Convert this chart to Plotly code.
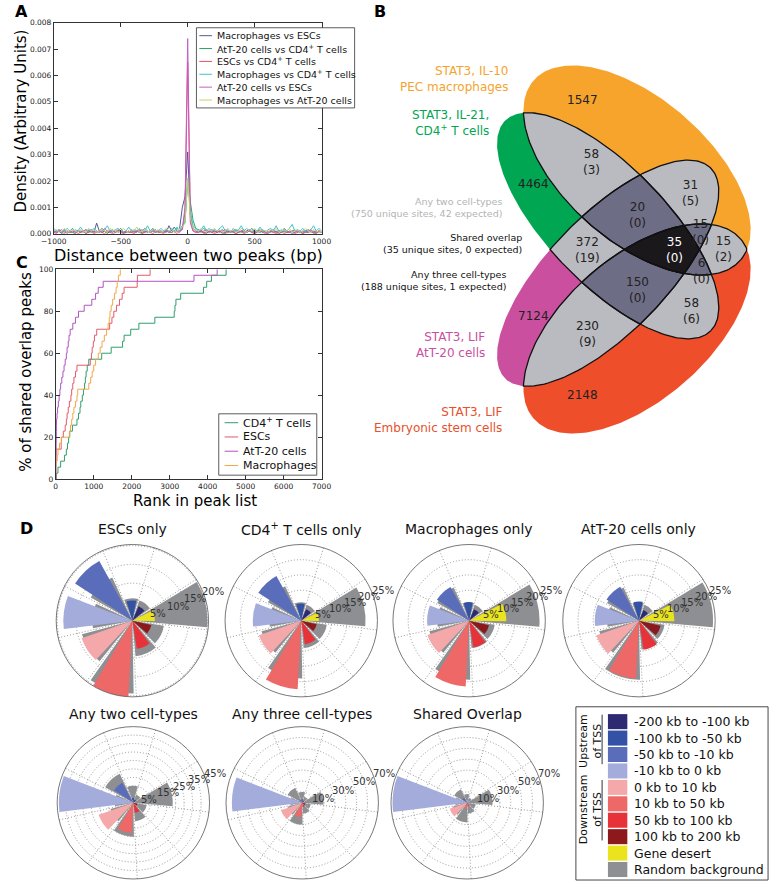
import numpy as np
import plotly.graph_objects as go

W, H = 780, 887
FONT = "DejaVu Sans"


def px(x):
    return x / W


def py(y):
    return 1 - y / H


# ---------------- panel A: distance between paired peaks ----------------
dist_bins = list(range(-1000, 1001, 20))  # bp, bin centres
# densities in units of 1e-4
mac_vs_esc = [1, 0.5, 1, 0, 1.5, 0.5, 1, 0.5, 0, 1,
              0.5, 1, 0, 1, 1.5, 0.5, 4, 1, 0.5, 1,
              0, 1, 0.5, 1.5, 0.5, 1, 0, 0.5, 1, 0.5,
              1, 0.5, 1.5, 0, 1, 0.5, 1, 2, 0.5, 1,
              0.5, 1, 0.5, 3, 1, 2.5, 1, 2, 10, 14,
              31,
              7, 2, 1, 0.5, 1, 0.5, 0, 1, 0.5, 1,
              0.5, 1, 0, 0.5, 1, 0.5, 1, 0, 0.5, 1,
              0.5, 1, 1.5, 0.5, 0, 1, 0.5, 1, 0.5, 0,
              1, 0.5, 1, 0, 0.5, 1, 0.5, 1, 0, 0.5,
              1, 0.5, 0, 1, 0.5, 1, 0.5, 0, 1, 0.5]
att_vs_cd4 = [0.5, 1, 1.5, 0.5, 1, 0, 1, 2, 0.5, 1,
              1, 0.5, 1.5, 1, 0.5, 1, 0.5, 1, 2, 1,
              0.5, 1, 1.5, 0.5, 1, 2, 0.5, 1, 0.5, 1.5,
              0.5, 1, 0.5, 1, 2, 1, 0.5, 1, 1.5, 0.5,
              1, 0.5, 1.5, 1, 0.5, 1, 2, 1, 3, 4,
              21,
              12, 5, 2, 1.5, 1, 2, 1, 0.5, 1.5, 1,
              0.5, 1, 1.5, 0.5, 1, 0.5, 1, 1.5, 1, 0.5,
              1, 0.5, 1, 2, 0.5, 1, 1.5, 0.5, 1, 0.5,
              1, 1.5, 0.5, 1, 0.5, 2, 1, 0.5, 1, 1.5,
              0.5, 1, 0.5, 1, 1.5, 0.5, 1, 0.5, 1, 0.5]
esc_vs_cd4 = [0.5, 0, 1, 0.5, 0, 1, 0.5, 0.5, 1, 0,
              0.5, 1, 0, 0.5, 1, 0, 0.5, 1, 0.5, 0,
              1, 0.5, 0, 0.5, 1, 0.5, 0, 1, 0.5, 0.5,
              0, 1, 0.5, 0, 0.5, 1, 0.5, 0, 1, 0.5,
              0.5, 0, 1, 0.5, 0.5, 1, 0, 1, 1.5, 8,
              65,
              5, 1, 0.5, 0.5, 1, 0, 0.5, 1, 0.5, 0,
              0.5, 1, 0.5, 0, 0.5, 1, 0.5, 0, 0.5, 1,
              0, 0.5, 1, 0.5, 0, 0.5, 1, 0.5, 0, 0.5,
              1, 0.5, 0, 0.5, 1, 0, 0.5, 0.5, 1, 0,
              0.5, 1, 0, 0.5, 0.5, 1, 0, 0.5, 1, 0.5]
mac_vs_cd4 = [2, 1, 1.5, 0.5, 1, 2, 1, 0.5, 1.5, 1,
              2.5, 1, 0.5, 1.5, 1, 2, 1, 0.5, 1, 1.5,
              3, 1, 0.5, 1.5, 2, 1, 0.5, 1, 2.5, 1,
              1.5, 1, 2, 0.5, 1, 3, 1, 1.5, 0.5, 1,
              2, 1, 1.5, 0.5, 2, 1, 2.5, 1, 3, 5,
              20,
              9, 3, 2, 1, 1.5, 3, 1, 2, 1, 1.5,
              1, 2, 3, 1, 1.5, 0.5, 2, 1, 1.5, 3,
              1, 2, 1, 0.5, 1.5, 1, 2.5, 1, 0.5, 1.5,
              2, 1, 3, 1, 1.5, 0.5, 1, 2, 3.5, 1,
              1.5, 1, 2, 0.5, 1, 1.5, 3, 1, 2, 1]
att_vs_esc = [1, 0.5, 1, 1.5, 0.5, 1, 0.5, 1, 0.5, 1,
              0.5, 1, 1.5, 0.5, 1, 0.5, 1, 0.5, 1, 2,
              1, 0.5, 1, 0.5, 1.5, 1, 0.5, 1, 0.5, 1,
              0.5, 1, 1, 1.5, 0.5, 1, 0.5, 1, 0.5, 1,
              1, 0.5, 1, 0.5, 1.5, 0.5, 1, 0.5, 2, 10,
              74,
              4, 1, 0.5, 1, 0.5, 1, 1.5, 0.5, 1, 0.5,
              1, 0.5, 1, 1.5, 0.5, 1, 0.5, 1, 0.5, 1,
              1.5, 0.5, 1, 0.5, 1, 0.5, 1, 1.5, 0.5, 1,
              0.5, 1, 0.5, 1, 0.5, 1.5, 1, 0.5, 1, 0.5,
              1, 0.5, 1, 0.5, 1, 1.5, 0.5, 1, 0.5, 1]
mac_vs_att = [1, 1.5, 0.5, 1, 2, 0.5, 1, 1.5, 1, 0.5,
              1.5, 1, 0.5, 2, 1, 1.5, 0.5, 1, 1.5, 1,
              0.5, 2, 1, 1.5, 0.5, 1, 2, 1, 0.5, 1.5,
              1, 2.5, 0.5, 1, 1.5, 1, 0.5, 2, 1, 1.5,
              0.5, 1, 2, 1, 1.5, 0.5, 1, 2, 2.5, 4,
              21,
              6, 2, 1.5, 1, 2, 1, 0.5, 1.5, 1, 2,
              1, 1.5, 0.5, 1, 2, 1, 1.5, 0.5, 1, 2,
              1, 0.5, 1.5, 1, 2, 0.5, 1, 1.5, 1, 0.5,
              1.5, 1, 2, 0.5, 1, 1.5, 1, 2, 0.5, 1,
              1.5, 0.5, 1, 2, 1, 0.5, 1.5, 1, 0.5, 1]
pair_series = [mac_vs_esc, att_vs_cd4, esc_vs_cd4, mac_vs_cd4, att_vs_esc, mac_vs_att]
pair_names = ["Macrophages vs ESCs", "AtT-20 cells vs CD4<sup>+</sup> T cells",
              "ESCs vs CD4<sup>+</sup> T cells", "Macrophages vs CD4<sup>+</sup> T cells",
              "AtT-20 cells vs ESCs", "Macrophages vs AtT-20 cells"]
pair_colors = ["#4f5b96", "#2ea26a", "#e2506a", "#3fc4d8", "#c35fc8", "#c9cf6a"]

# ---------------- panel C: rank of shared overlap peaks ----------------
n_shared = 35
rank_cd4 = [20, 60, 130, 230, 280, 310, 340, 370, 440, 560, 600, 640, 660, 700, 730,
            760, 780, 800, 830, 870, 1210, 1460, 1760, 1800, 1975, 2190, 2610, 3120,
            3140, 3165, 3290, 3890, 3975, 4100, 4485]
rank_esc = [1, 2, 3, 4, 5, 145, 150, 200, 250, 280, 300, 330, 360, 400, 420, 450, 480,
            520, 560, 910, 940, 960, 990, 1020, 1080, 1420, 1480, 1530, 1600, 1680,
            1750, 1800, 2145, 2150, 2485]
rank_att = [2, 4, 6, 8, 10, 12, 14, 16, 18, 20, 35, 50, 70, 90, 110, 130, 160, 190,
            220, 250, 280, 300, 330, 350, 380, 450, 520, 600, 750, 950, 1050, 1120,
            1250, 3640, 4250]
rank_mac = [1, 2, 3, 40, 60, 100, 150, 360, 390, 420, 450, 480, 520, 560, 580, 870,
            920, 960, 1000, 1050, 1120, 1170, 1220, 1280, 1340, 1380, 1410, 1430,
            1460, 1500, 1550, 1590, 1620, 1650, 1700]
rank_series = [rank_cd4, rank_esc, rank_att, rank_mac]
rank_names = ["CD4<sup>+</sup> T cells", "ESCs", "AtT-20 cells", "Macrophages"]
rank_colors = ["#2e9e6e", "#e25b6b", "#b054c0", "#f0a848"]

# ---------------- panel B: Venn counts ----------------
only_counts = ["1547", "4464", "7124", "2148"]
pair_counts = ["58<br>(3)", "31<br>(5)", "15<br>(2)", "372<br>(19)", "58<br>(6)", "230<br>(9)"]
triple_counts = ["20<br>(0)", "15<br>(0)", "6<br>(0)", "150<br>(0)"]
all_count = "35<br>(0)"

# ---------------- panel D: genomic location of sites ----------------
loc_bins = ["-200 kb to -100 kb", "-100 kb to -50 kb", "-50 kb to -10 kb", "-10 kb to 0 kb",
            "0 kb to 10 kb", "10 kb to 50 kb", "50 kb to 100 kb", "100 kb to 200 kb",
            "Gene desert"]
loc_colors = ["#2d2a72", "#3352a5", "#5a6dbb", "#a4acdc", "#f4a8aa", "#ef6868",
              "#e8323a", "#8c1a1d", "#eae41e"]
bg_color = "#8d8f92"
esc_only = [4.2, 5.4, 18.2, 18.4, 14.3, 20.3, 7.6, 5.2, 6.0]
esc_bg = [5.7, 6.0, 12.7, 10.7, 13.9, 19.4, 9.5, 8.5, 20.0]
cd4_only = [4.1, 5.6, 16.8, 15.9, 14.7, 22.5, 7.8, 5.2, 5.8]
cd4_bg = [5.5, 6.0, 12.5, 10.5, 13.5, 19.0, 9.0, 8.5, 21.1]
mac_only = [4.1, 6.1, 12.6, 13.8, 14.5, 21.6, 8.9, 6.7, 12.2]
mac_bg = [5.5, 6.0, 12.0, 10.5, 13.5, 19.4, 9.0, 8.5, 23.1]
att_only = [3.8, 6.3, 12.7, 14.5, 14.8, 19.0, 9.7, 7.3, 11.6]
att_bg = [5.5, 6.0, 12.0, 10.5, 13.5, 19.4, 9.5, 8.5, 24.3]
two_only = [2.0, 3.0, 13.6, 44.0, 21.7, 17.8, 6.0, 2.5, 1.0]
two_bg = [5.0, 10.0, 19.0, 11.0, 14.0, 20.0, 11.0, 8.0, 23.3]
three_only = [2.0, 3.0, 3.0, 64.6, 20.7, 13.3, 4.0, 3.0, 1.0]
three_bg = [6.0, 10.0, 15.3, 11.0, 14.0, 20.0, 10.0, 8.0, 19.5]
shared_only = [0, 0, 5.7, 68.6, 17.1, 5.7, 2.9, 0, 0]
shared_bg = [5.0, 8.0, 13.7, 11.0, 14.0, 18.0, 10.0, 8.0, 23.3]

fig = go.Figure()
annotations = []
shapes = []


def note(text, x, y, size=12, color="black", xanchor="center", yanchor="middle",
         angle=0, align="center"):
    annotations.append(dict(text=text, x=px(x), y=py(y), xref="paper", yref="paper",
                            showarrow=False, xanchor=xanchor, yanchor=yanchor,
                            textangle=angle, align=align,
                            font=dict(family=FONT, size=size, color=color)))


def hline(x0, x1, y, color, width=1):
    shapes.append(dict(type="line", xref="paper", yref="paper", x0=px(x0), x1=px(x1),
                       y0=py(y), y1=py(y), line=dict(color=color, width=width), layer="above"))


def box(x0, y0, x1, y1, fill="white", line="#333", width=0.8):
    shapes.append(dict(type="rect", xref="paper", yref="paper", x0=px(x0), x1=px(x1),
                       y0=py(y1), y1=py(y0), fillcolor=fill,
                       line=dict(color=line, width=width), layer="above"))


# ---- panel A traces
dens_scale = 1e-4
for vals, name, col in zip(pair_series, pair_names, pair_colors):
    fig.add_trace(go.Scatter(x=dist_bins, y=[v * dens_scale for v in vals], mode="lines",
                             line=dict(color=col, width=1), name=name,
                             xaxis="x", yaxis="y", showlegend=False))

# ---- panel C traces
for ranks, name, col in zip(rank_series, rank_names, rank_colors):
    cum = [0] + [100 * (k + 1) / n_shared for k in range(len(ranks))]
    fig.add_trace(go.Scatter(x=[0] + ranks, y=cum, mode="lines", line_shape="hv",
                             line=dict(color=col, width=1), name=name,
                             xaxis="x2", yaxis="y2", showlegend=False))


# ---- panel B: Venn of four ellipses
def ellipse(cx, cy, a, b, deg, n=260):
    t = np.linspace(0, 2 * np.pi, n, endpoint=False)
    th = np.radians(deg)
    xs = cx + a * np.cos(t) * np.cos(th) - b * np.sin(t) * np.sin(th)
    ys = cy + a * np.cos(t) * np.sin(th) + b * np.sin(t) * np.cos(th)
    return list(zip(xs, ys))


def signed_area(poly):
    s = 0
    for i in range(len(poly)):
        x0, y0 = poly[i - 1]
        x1, y1 = poly[i]
        s += x0 * y1 - x1 * y0
    return s


def clip(subject, clipper):
    sgn = 1 if signed_area(clipper) > 0 else -1

    def inside(p, a, b):
        return sgn * ((b[0] - a[0]) * (p[1] - a[1]) - (b[1] - a[1]) * (p[0] - a[0])) >= 0

    def cross_pt(p, q, a, b):
        x1, y1 = p
        x2, y2 = q
        x3, y3 = a
        x4, y4 = b
        d = (x1 - x2) * (y3 - y4) - (y1 - y2) * (x3 - x4)
        t = ((x1 - x3) * (y3 - y4) - (y1 - y3) * (x3 - x4)) / d
        return (x1 + t * (x2 - x1), y1 + t * (y2 - y1))

    out = subject
    for i in range(len(clipper)):
        a, b = clipper[i - 1], clipper[i]
        inp, out = out, []
        if not inp:
            break
        s = inp[-1]
        for e in inp:
            if inside(e, a, b):
                if not inside(s, a, b):
                    out.append(cross_pt(s, e, a, b))
                out.append(e)
            elif inside(s, a, b):
                out.append(cross_pt(s, e, a, b))
            s = e
    return out


axis_y = 248
ell = {
    "O": ellipse(643, 168, 140, 73, 40),
    "G": ellipse(613, 224, 150, 60, 45),
    "M": ellipse(613, 2 * axis_y - 224, 150, 60, -45),
    "R": ellipse(643, 2 * axis_y - 168, 140, 73, -40),
}
set_colors = {"O": "#f7a42c", "G": "#00a651", "M": "#cb4f9f", "R": "#ef4e2b"}


def fill_poly(poly, color):
    xs = [p[0] for p in poly] + [poly[0][0]]
    ys = [p[1] for p in poly] + [poly[0][1]]
    fig.add_trace(go.Scatter(x=xs, y=ys, mode="lines", fill="toself", fillcolor=color,
                             line=dict(width=0, color=color), hoverinfo="skip",
                             showlegend=False, xaxis="x3", yaxis="y3"))


for k in "OGMR":
    fill_poly(ell[k], set_colors[k])
pairs = [("O", "G"), ("O", "M"), ("O", "R"), ("G", "M"), ("G", "R"), ("M", "R")]
pair_polys = [clip(ell[a], ell[b]) for a, b in pairs]
for poly in pair_polys:
    fill_poly(poly, "#babbc0")
triples = [("O", "G", "M"), ("O", "M", "R"), ("O", "G", "R"), ("G", "M", "R")]
for a, b, c in triples:
    fill_poly(clip(clip(ell[a], ell[b]), ell[c]), "#6e6d86")
fill_poly(clip(clip(clip(ell["O"], ell["G"]), ell["M"]), ell["R"]), "#1b181c")
for poly in pair_polys:
    xs = [p[0] for p in poly] + [poly[0][0]]
    ys = [p[1] for p in poly] + [poly[0][1]]
    fig.add_trace(go.Scatter(x=xs, y=ys, mode="lines", line=dict(color="#111", width=1.3),
                             hoverinfo="skip", showlegend=False, xaxis="x3", yaxis="y3"))

only_pos = [(587, 97), (536, 182), (536, 315), (587, 395)]
pair_pos = [(596, 160), (698, 191), (732, 248), (592, 249), (699, 310), (592, 333)]
triple_pos = [(643, 213), (708, 230), (709, 270), (643, 289)]
for t, (x, y) in zip(only_counts, only_pos):
    note(t, x, y, 12, "#222")
for t, (x, y) in zip(pair_counts, pair_pos):
    note(t, x, y, 12, "#222")
for t, (x, y) in zip(triple_counts, triple_pos):
    note(t, x, y, 12, "#222")
note(all_count, 682, 249, 12, "white")

note("STAT3, IL-10<br>PEC macrophages", 513, 76, 12, "#f5a32e", "right", align="right")
note("STAT3, IL-21,<br>CD4<sup>+</sup> T cells", 493, 120, 12, "#00a651", "right", align="right")
note("Any two cell-types<br>(750 unique sites, 42 expected)", 506, 206, 9.5, "#b4b4b4",
     "right", align="right")
note("Shared overlap<br>(35 unique sites, 0 expected)", 527, 242, 9.5, "#111", "right",
     align="right")
note("Any three cell-types<br>(188 unique sites, 1 expected)", 510, 279, 9.5, "#111", "right",
     align="right")
note("STAT3, LIF<br>AtT-20 cells", 488, 344, 12, "#c94fa0", "right", align="right")
note("STAT3, LIF<br>Embryonic stem cells", 506, 420, 12, "#e8502e", "right", align="right")

# ---- panel D: polar bar charts
n_bins = len(loc_bins)
step = 360 / n_bins
theta = [(13 + step * (i + 1)) % 360 for i in range(n_bins)]
grid_angles = [(13 + step / 2 + step * i) % 360 for i in range(n_bins)]

polar_specs = [
    ("ESCs only", esc_only, esc_bg, 123, 623, 20.3, [5, 10, 15, 20], None, 530),
    ("CD4<sup>+</sup> T cells only", cd4_only, cd4_bg, 297, 623, 25, [5, 10, 15, 20, 25], None, 530),
    ("Macrophages only", mac_only, mac_bg, 470, 623, 25, [5, 10, 15, 20, 25], None, 530),
    ("AtT-20 cells only", att_only, att_bg, 645, 623, 25, [5, 10, 15, 20, 25], None, 530),
    ("Any two cell-types", two_only, two_bg, 124, 807, 45, list(range(5, 50, 5)),
     [5, 15, 25, 35, 45], 717),
    ("Any three cell-types", three_only, three_bg, 298, 807, 70, list(range(10, 80, 10)),
     [10, 30, 50, 70], 717),
    ("Shared Overlap", shared_only, shared_bg, 468, 807, 70, list(range(10, 80, 10)),
     [10, 30, 50, 70], 717),
]
polar_layouts = {}
rad = 78.5
label_angle = np.radians(22.5)
grid_dash = "1px,2px"
for i, (title, vals, bg, cx, cy, rmax, tv, shown, ty) in enumerate(polar_specs):
    key = "polar" if i == 0 else "polar%d" % (i + 1)
    fig.add_trace(go.Barpolar(r=bg, theta=theta, width=36, marker_color=bg_color,
                              marker_line_width=0, subplot=key, showlegend=False))
    fig.add_trace(go.Barpolar(r=vals, theta=theta, width=28, marker_color=loc_colors,
                              marker_line_width=0, subplot=key, showlegend=False))
    polar_layouts[key] = dict(
        domain=dict(x=[px(cx - rad), px(cx + rad)], y=[py(cy + rad), py(cy - rad)]),
        bgcolor="white", barmode="overlay", bargap=0,
        angularaxis=dict(direction="counterclockwise", rotation=0, tickvals=grid_angles,
                         showticklabels=False, ticks="", showline=True, linecolor="#555",
                         linewidth=0.8, gridcolor="#999", griddash=grid_dash, gridwidth=0.8),
        radialaxis=dict(range=[0, rmax], tickvals=tv, showticklabels=False, angle=22.5,
                        showline=False, ticks="", gridcolor="#999",
                        griddash=grid_dash, gridwidth=0.8),
    )
    # radial labels, left-aligned on the 22.5 degree ray like the original
    for v in (shown if shown is not None else tv):
        rp = v / rmax * rad
        note("%d%%" % v, cx + rp * np.cos(label_angle) - 2, cy - rp * np.sin(label_angle),
             10, "#333", "left")
    note(title, cx, ty, 14, "#111")

# ---- legend of panel D (drawn by hand)
box(580, 710, 778, 885, line="#333", width=0.9)
for i, (lab, col) in enumerate(zip(loc_bins + ["Random background"], loc_colors + [bg_color])):
    yc = 725 + 16.6 * i
    shapes.append(dict(type="rect", xref="paper", yref="paper", x0=px(613), x1=px(633),
                       y0=py(yc + 7.6), y1=py(yc - 7.6), fillcolor=col,
                       line=dict(width=0), layer="above"))
    note(lab, 638, yc, 12.5, "#111", "left")
note("Upstream<br>of TSS", 595, 744, 11, "#111", angle=-90)
note("Downstream<br>of TSS", 595, 813, 11, "#111", angle=-90)
for y0, y1 in [(718, 768), (784, 845)]:
    shapes.append(dict(type="line", xref="paper", yref="paper", x0=px(607), x1=px(607),
                       y0=py(y0), y1=py(y1), line=dict(color="#333", width=1), layer="above"))

# ---- hand-drawn legends for A and C
box(189, 24, 352, 105)
for i, (name, col) in enumerate(zip(pair_names, pair_colors)):
    yc = 32 + 13 * i
    hline(192, 205, yc, col)
    note(name, 208, yc, 9.5, "#111", "left")
box(212, 414, 313, 476)
for i, (name, col) in enumerate(zip(rank_names, rank_colors)):
    yc = 423 + 14.4 * i
    hline(218, 232, yc, col)
    note(name, 235, yc, 11, "#111", "left")

# ---- axis titles and panel letters
note("Distance between two peaks (bp)", 181, 254, 16)
note("Density (Arbitrary Units)", 8, 118, 15, angle=-90)
note("Rank in peak list", 188, 502, 15)
note("% of shared overlap peaks", 14, 372, 15, angle=-90)
for letter, x, y in [("A", 9, 8), ("B", 378, 8), ("C", 9, 261), ("D", 14, 530)]:
    note("<b>%s</b>" % letter, x, y, 16)

tick_font = dict(family=FONT, size=7.5, color="#222")
frame = dict(showline=True, linecolor="#333", linewidth=0.8, mirror="ticks", ticks="inside",
             ticklen=4, tickwidth=0.7, tickcolor="#333", showgrid=False, zeroline=False,
             tickfont=tick_font, fixedrange=True)

fig.update_layout(
    width=W, height=H, margin=dict(l=0, r=0, t=0, b=0),
    paper_bgcolor="white", plot_bgcolor="white", showlegend=False,
    font=dict(family=FONT),
    xaxis=dict(domain=[px(42), px(318)], range=[-1000, 1000], anchor="y",
               tickvals=[-1000, -500, 0, 500, 1000], **frame),
    yaxis=dict(domain=[py(232), py(19)], range=[0, 0.008], anchor="x",
               tickvals=[i / 1000 for i in range(9)], tickformat=".3f", **frame),
    xaxis2=dict(domain=[px(44), px(318)], range=[0, 7000], anchor="y2",
                tickvals=list(range(0, 7001, 1000)), **frame),
    yaxis2=dict(domain=[py(480), py(268)], range=[0, 100], anchor="x2",
                tickvals=list(range(0, 101, 20)), **frame),
    xaxis3=dict(domain=[px(370), 1], range=[370, 780], anchor="y3", visible=False,
                fixedrange=True),
    yaxis3=dict(domain=[py(460), 1], range=[460, 0], anchor="x3", visible=False,
                fixedrange=True),
    annotations=annotations, shapes=shapes,
    **polar_layouts,
)

# the page body has a default margin; drop it so the figure sits at the window's corner
fig.write_html("out.html", config={"displayModeBar": False},
               post_script="document.body.style.margin='0px';")
